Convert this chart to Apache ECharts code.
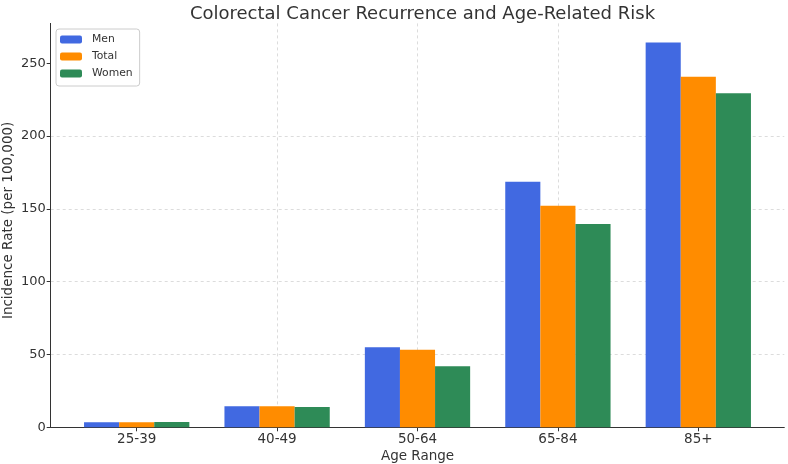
<!DOCTYPE html>
<html>
<head>
<meta charset="utf-8">
<script src="https://cdn.jsdelivr.net/npm/echarts@6/dist/echarts.min.js"></script>
<style>html,body{margin:0;padding:0;background:#fff}#c{width:788px;height:464px}</style>
</head>
<body>
<div id="c"></div>
<script>
const categories = ['25-39', '40-49', '50-64', '65-84', '85+'];
const men = [3.5, 14.5, 55.0, 168.7, 264.2];
const total = [3.5, 14.4, 53.3, 152.2, 240.8];
const women = [3.6, 14.0, 41.9, 139.6, 229.4];
const yTicks = [0, 50, 100, 150, 200, 250];

const idx = categories.map((_, i) => i);
const toPairs = arr => arr.map((v, i) => [i, v]);
const font = 'DejaVu Sans';
const gridLine = {color: '#d3d3d3', type: [3, 3], width: 0.8};
const chart = echarts.init(document.getElementById('c'), null, {renderer: 'canvas'});
chart.setOption({
  animation: false,
  backgroundColor: '#fff',
  textStyle: {fontFamily: font},
  title: {
    text: 'Colorectal Cancer Recurrence and Age-Related Risk',
    left: 417.5, textAlign: 'center', top: 0,
    textStyle: {fontFamily: font, fontSize: 18, fontWeight: 'normal', color: '#333'}
  },
  legend: {
    orient: 'vertical', left: 56, top: 29,
    itemWidth: 22, itemHeight: 8, itemGap: 6,
    padding: [5, 7, 7, 4],
    borderColor: '#ccc', borderWidth: 1, borderRadius: 3,
    backgroundColor: 'rgba(255,255,255,0.8)',
    textStyle: {fontFamily: font, fontSize: 10.8, color: '#333', padding: [0, 0, 0, 5]},
    itemStyle: {borderWidth: 0},
    data: ['Men', 'Total', 'Women']
  },
  grid: {left: 50.7, right: 3.7, top: 23.4, bottom: 36.7, containLabel: false, outerBoundsMode: 'none'},
  xAxis: {
    type: 'value', min: -0.6125, max: 4.6125,
    name: 'Age Range', nameLocation: 'middle', nameGap: 22.5, nameMoveOverlap: false,
    nameTextStyle: {fontFamily: font, fontSize: 13.5, color: '#333'},
    axisLine: {show: true, onZero: false, lineStyle: {color: '#333', width: 1}},
    axisTick: {show: true, length: 4, customValues: idx, lineStyle: {color: '#333'}},
    axisLabel: {customValues: idx, formatter: v => categories[Math.round(v)] ?? '', fontFamily: font, fontSize: 13.5, color: '#333', margin: 5},
    splitLine: {show: true, showMinLine: false, showMaxLine: false, lineStyle: gridLine}
  },
  yAxis: {
    type: 'value', min: 0, max: 277.4,
    name: 'Incidence Rate (per 100,000)', nameLocation: 'middle', nameGap: 35, nameMoveOverlap: false,
    nameTextStyle: {fontFamily: font, fontSize: 13.5, color: '#333', padding: [0, 0, 0, 10]},
    axisLine: {show: true, onZero: false, lineStyle: {color: '#333', width: 1}},
    axisTick: {show: true, length: 4, customValues: yTicks, lineStyle: {color: '#333'}},
    axisLabel: {customValues: yTicks, fontFamily: font, fontSize: 13, color: '#333', margin: 5},
    splitLine: {show: true, showMinLine: false, showMaxLine: false, lineStyle: gridLine}
  },
  series: [
    {name: 'Men', type: 'bar', data: toPairs(men), barWidth: '25%', barGap: '0%', itemStyle: {color: '#4169E1'}},
    {name: 'Total', type: 'bar', data: toPairs(total), barWidth: '25%', barGap: '0%', itemStyle: {color: '#FF8C00'}},
    {name: 'Women', type: 'bar', data: toPairs(women), barWidth: '25%', barGap: '0%', itemStyle: {color: '#2E8B57'}}
  ]
});
</script>
</body>
</html>
